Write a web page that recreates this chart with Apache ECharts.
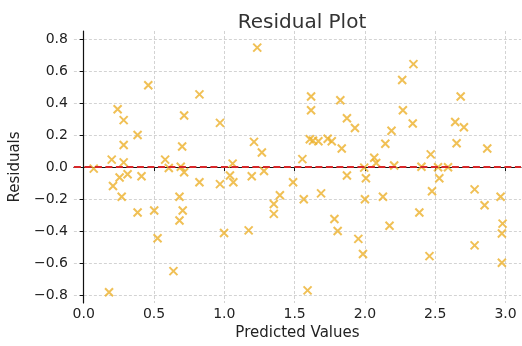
<!DOCTYPE html>
<html><head><meta charset="utf-8">
<script src="https://cdn.jsdelivr.net/npm/echarts@6/dist/echarts.min.js"></script>
<style>html,body{margin:0;padding:0;background:#fff}#c{width:522px;height:346px}</style>
</head><body><div id="c"></div>
<script>
const predicted = [0.071,0.180,0.199,0.208,0.241,0.255,0.270,0.284,0.284,0.284,0.312,0.383,0.383,0.411,0.459,0.501,0.525,0.579,0.605,0.638,0.681,0.681,0.690,0.700,0.704,0.714,0.714,0.823,0.823,0.969,0.969,0.998,1.040,1.059,1.064,1.173,1.195,1.211,1.234,1.267,1.282,1.352,1.352,1.395,1.489,1.555,1.565,1.592,1.608,1.617,1.617,1.631,1.669,1.688,1.735,1.764,1.783,1.806,1.825,1.835,1.872,1.872,1.929,1.953,1.986,1.995,2.000,2.007,2.066,2.080,2.128,2.145,2.175,2.189,2.208,2.265,2.270,2.340,2.345,2.387,2.402,2.459,2.468,2.477,2.520,2.529,2.591,2.642,2.652,2.681,2.704,2.780,2.780,2.851,2.870,2.965,2.979,2.974,2.974];
const residuals = [-0.010,-0.783,0.046,-0.119,0.361,-0.066,-0.186,0.293,0.138,0.029,-0.045,0.200,-0.284,-0.058,0.511,-0.272,-0.445,0.046,-0.006,-0.651,-0.186,-0.334,0.002,0.128,-0.272,0.322,-0.033,0.454,-0.095,0.276,-0.107,-0.412,-0.053,0.021,-0.095,-0.396,-0.058,0.157,0.746,0.091,-0.025,-0.231,-0.293,-0.177,-0.095,0.049,-0.202,-0.771,0.173,0.441,0.355,0.165,0.161,-0.165,0.177,0.161,-0.325,-0.400,0.417,0.116,0.305,-0.053,0.244,-0.449,-0.544,-0.004,-0.202,-0.070,0.058,0.025,-0.186,0.145,-0.367,0.227,0.009,0.544,0.355,0.272,0.643,-0.284,0.002,-0.557,0.079,-0.152,-0.002,-0.070,-0.002,0.281,0.148,0.441,0.248,-0.140,-0.490,-0.239,0.116,-0.186,-0.354,-0.416,-0.598];
const titleText = 'Residual Plot';
const xName = 'Predicted Values';
const yName = 'Residuals';

const pts = predicted.map((v,i)=>[v,residuals[i]]);
const fmt = v => (Math.round(v*10)/10).toFixed(1).replace('-', '\u2212');
const font = 'DejaVu Sans';
const chart = echarts.init(document.getElementById('c'), null, {renderer:'canvas'});
chart.setOption({
  animation:false,
  backgroundColor:'#fff',
  title:{text:titleText,left:297,top:8,textAlign:'center',textStyle:{fontFamily:font,fontSize:20,fontWeight:'normal',color:'#333'}},
  grid:{left:71,right:1,top:31,bottom:42,containLabel:false},
  xAxis:{type:'value',min:-0.07,max:3.11,
    name:xName,nameLocation:'middle',nameGap:23,
    nameTextStyle:{fontFamily:font,fontSize:15,color:'#222'},
    axisLine:{show:true,lineStyle:{color:'#111',width:1.2}},
    axisTick:{show:true,length:4,lineStyle:{color:'#111'}},
    axisLabel:{fontFamily:font,fontSize:14,color:'#222',margin:4,formatter:fmt,showMinLabel:false,showMaxLabel:false},
    splitLine:{show:true,showMinLine:false,showMaxLine:false,lineStyle:{color:'#c8c8c8',type:[3,2],width:0.8}}
  },
  yAxis:{type:'value',min:-0.85,max:0.85,splitNumber:8,
    name:yName,nameLocation:'middle',nameGap:46,nameRotate:90,
    nameTextStyle:{fontFamily:font,fontSize:15,color:'#222'},
    axisLine:{show:true,lineStyle:{color:'#111',width:1.2}},
    axisTick:{show:true,length:4,lineStyle:{color:'#111'}},
    axisLabel:{fontFamily:font,fontSize:14,color:'#222',margin:6,formatter:fmt,showMinLabel:false,showMaxLabel:false},
    splitLine:{show:true,showMinLine:false,showMaxLine:false,lineStyle:{color:'#c8c8c8',type:[3,2],width:0.8}}
  },
  series:[{
    type:'scatter',data:pts,
    symbol:'path://M0,0L10,10M10,0L0,10',symbolSize:8,
    itemStyle:{color:'rgba(0,0,0,0)',borderColor:'#ecb02a',borderWidth:2},
    markLine:{silent:true,symbol:'none',label:{show:false},
      lineStyle:{color:'#d8282a',type:[7,3.5],width:2},
      data:[{yAxis:0}]}
  }]
});
</script></body></html>
